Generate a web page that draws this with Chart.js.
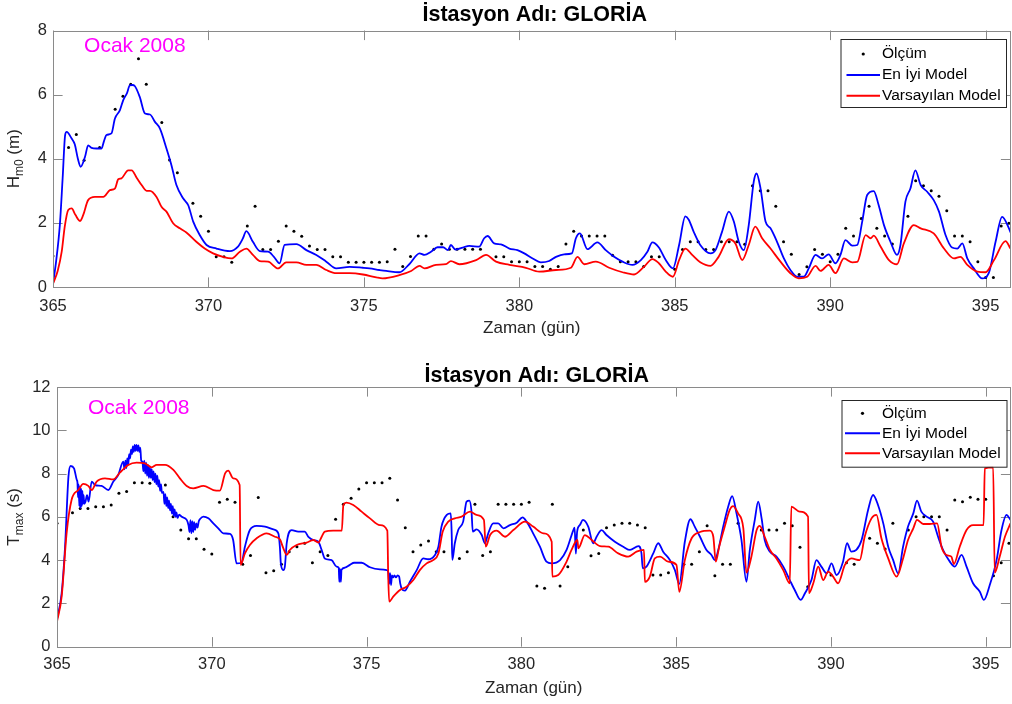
<!DOCTYPE html>
<html><head><meta charset="utf-8">
<script src="https://cdn.jsdelivr.net/npm/chart.js@4.4.1/dist/chart.umd.min.js"></script>
<style>
body{margin:0;background:#fff;width:1012px;height:704px;overflow:hidden;position:relative}
canvas{position:absolute;left:0}
</style></head>
<body>
<canvas id="c1" width="1012" height="352" style="top:0"></canvas>
<canvas id="c2" width="1012" height="352" style="top:352px"></canvas>
<script>
// ---------------- data ----------------
const chartTitle = 'İstasyon Adı: GLORİA';
const xLabel = 'Zaman (gün)';
const noteText = 'Ocak 2008';
const seriesNames = ['Ölçüm', 'En İyi Model', 'Varsayılan Model'];
const xTickValues = [365, 370, 375, 380, 385, 390, 395];
const xMin = 365, xMax = 395.8;
const hTickValues = [0, 2, 4, 6, 8];
const tTickValues = [0, 2, 4, 6, 8, 10, 12];

// Hm0 (m) : measurement [day, value]
const hObs = [[365.0,0.97],[365.5,4.35],[365.75,4.76],[366.0,3.95],[366.5,4.35],[367.0,5.54],[367.25,5.95],[367.5,6.32],[367.75,7.12],[368.0,6.32],[368.5,5.13],[368.75,3.96],[369.0,3.56],[369.5,2.61],[369.75,2.21],[370.0,1.74],[370.25,0.94],[370.5,0.94],[370.75,0.77],[371.25,1.9],[371.5,2.52],[371.75,1.17],[372.0,1.17],[372.25,1.43],[372.5,1.9],[372.75,1.74],[373.0,1.58],[373.25,1.28],[373.5,1.17],[373.75,1.17],[374.0,0.94],[374.25,0.94],[374.5,0.77],[374.75,0.77],[375.0,0.77],[375.25,0.77],[375.5,0.77],[375.75,0.79],[376.0,1.18],[376.25,0.64],[376.5,0.95],[376.75,1.59],[377.0,1.59],[377.25,1.18],[377.5,1.34],[377.75,1.18],[378.0,1.18],[378.25,1.18],[378.5,1.18],[378.75,1.18],[379.25,0.94],[379.5,0.94],[379.75,0.79],[380.0,0.79],[380.25,0.79],[380.5,0.64],[380.75,0.64],[381.0,0.55],[381.25,0.64],[381.5,1.34],[381.75,1.74],[382.0,1.59],[382.25,1.59],[382.5,1.59],[382.75,1.59],[383.0,0.99],[383.25,0.79],[383.5,0.79],[383.75,0.79],[384.0,0.64],[384.25,0.94],[384.5,0.94],[385.0,0.55],[385.25,1.17],[385.5,1.41],[385.75,1.41],[386.0,1.17],[386.25,1.17],[386.5,1.41],[386.75,1.41],[387.0,1.41],[387.25,1.33],[387.5,3.16],[387.75,3.0],[388.0,3.0],[388.25,2.52],[388.5,1.41],[388.75,1.02],[389.0,0.39],[389.25,0.63],[389.5,1.17],[389.75,1.02],[390.0,0.79],[390.25,1.02],[390.5,1.83],[390.75,1.59],[391.0,2.14],[391.25,2.52],[391.5,1.83],[391.75,1.59],[392.0,1.34],[392.5,2.21],[392.75,3.31],[393.0,3.16],[393.25,3.0],[393.5,2.83],[393.75,2.38],[394.0,1.59],[394.25,1.59],[394.5,1.41],[394.75,0.79],[395.0,0.3],[395.25,0.3],[395.5,1.9],[395.75,1.99]];

// Hm0 : best model
const hBest = [[365.0,0.1],[365.1,0.8],[365.22,1.93],[365.31,3.39],[365.39,4.74],[365.44,4.84],[365.6,4.63],[365.7,4.45],[365.8,4.0],[365.89,3.75],[366.03,4.06],[366.13,4.42],[366.24,4.34],[366.4,4.32],[366.56,4.32],[366.64,4.55],[366.72,4.74],[366.88,4.79],[366.99,5.25],[367.15,5.51],[367.26,5.83],[367.38,6.05],[367.47,6.29],[367.55,6.3],[367.63,6.27],[367.79,5.93],[367.96,5.41],[368.12,5.38],[368.28,5.15],[368.44,4.94],[368.65,4.32],[368.81,3.8],[368.97,3.18],[369.19,2.76],[369.35,2.55],[369.51,2.04],[369.72,1.62],[369.94,1.31],[370.26,1.2],[370.69,1.12],[370.95,1.26],[371.1,1.5],[371.22,1.74],[371.43,1.41],[371.65,1.12],[371.92,1.1],[372.1,0.95],[372.29,0.74],[372.45,1.31],[372.83,1.34],[373.15,1.15],[373.47,1.0],[373.79,0.79],[374.11,0.58],[374.54,0.63],[374.97,0.6],[375.18,0.58],[375.5,0.53],[375.72,0.5],[376.14,0.46],[376.46,0.71],[376.79,1.05],[376.95,1.0],[377.16,1.1],[377.37,1.24],[377.55,1.24],[377.7,1.15],[377.8,1.31],[377.94,1.17],[378.18,1.23],[378.39,1.28],[378.71,1.26],[378.87,1.52],[378.98,1.59],[379.19,1.36],[379.41,1.33],[379.68,1.2],[379.94,1.15],[380.16,1.05],[380.43,0.89],[380.69,0.77],[380.96,0.81],[381.18,0.94],[381.44,1.02],[381.69,1.05],[381.82,1.52],[381.95,1.67],[382.19,1.18],[382.51,1.39],[382.78,1.15],[383.05,0.94],[383.32,0.79],[383.64,0.69],[383.91,0.84],[384.12,1.1],[384.28,1.39],[384.49,1.23],[384.71,0.84],[384.94,0.58],[385.14,1.31],[385.34,2.2],[385.45,2.1],[385.61,1.72],[385.82,1.31],[386.15,1.05],[386.31,1.15],[386.52,1.72],[386.74,2.35],[386.9,2.04],[387.06,1.41],[387.22,1.15],[387.38,1.93],[387.54,3.28],[387.63,3.54],[387.76,3.07],[387.92,2.04],[388.08,1.83],[388.29,1.41],[388.51,0.89],[388.72,0.53],[388.94,0.32],[389.15,0.32],[389.31,0.58],[389.53,1.0],[389.74,0.89],[389.95,1.02],[390.17,0.74],[390.33,1.0],[390.49,1.46],[390.71,1.29],[390.87,1.31],[391.03,2.04],[391.19,2.87],[391.4,2.99],[391.56,2.55],[391.73,1.93],[391.94,1.41],[392.15,1.0],[392.26,1.31],[392.42,2.66],[392.58,3.07],[392.74,3.64],[392.91,3.18],[393.12,2.97],[393.33,2.71],[393.5,2.35],[393.71,1.62],[393.92,1.23],[394.09,1.2],[394.25,1.36],[394.41,0.89],[394.62,0.58],[394.89,0.27],[395.1,0.43],[395.32,1.41],[395.53,2.19],[395.75,1.83],[395.8,1.7]];

// Hm0 : default model
const hDefault = [[365.0,0.1],[365.15,0.5],[365.28,1.1],[365.38,1.9],[365.49,2.4],[365.6,2.45],[365.72,2.25],[365.87,2.06],[365.97,2.24],[366.13,2.71],[366.35,2.81],[366.62,2.81],[366.83,3.02],[366.99,3.07],[367.1,3.36],[367.2,3.39],[367.42,3.64],[367.53,3.64],[367.69,3.41],[367.85,3.18],[368.01,3.0],[368.12,3.0],[368.33,2.81],[368.49,2.5],[368.65,2.35],[368.87,1.98],[369.08,1.83],[369.29,1.7],[369.61,1.41],[369.88,1.2],[370.15,1.05],[370.47,0.94],[370.74,0.89],[371.01,1.1],[371.22,1.2],[371.43,1.0],[371.65,0.81],[371.92,0.79],[372.24,0.58],[372.5,0.77],[372.83,0.77],[373.15,0.69],[373.47,0.69],[373.79,0.53],[374.11,0.43],[374.54,0.43],[374.97,0.39],[375.4,0.3],[375.6,0.27],[376.14,0.37],[376.52,0.5],[376.79,0.66],[376.95,0.58],[377.32,0.69],[377.64,0.71],[377.8,0.81],[378.07,0.71],[378.61,0.84],[378.93,1.0],[379.25,0.79],[379.68,0.69],[380.21,0.6],[380.64,0.48],[381.18,0.53],[381.66,0.6],[381.87,0.94],[382.09,0.71],[382.46,0.79],[382.89,0.6],[383.32,0.46],[383.69,0.39],[384.01,0.63],[384.28,0.87],[384.49,0.74],[384.71,0.48],[384.94,0.32],[385.14,0.84],[385.34,1.2],[385.56,1.0],[385.82,0.77],[386.15,0.66],[386.41,0.94],[386.74,1.49],[386.95,1.36],[387.17,0.84],[387.38,1.31],[387.59,1.88],[387.81,1.52],[388.08,1.2],[388.4,0.79],[388.72,0.43],[388.99,0.27],[389.26,0.32],[389.53,0.66],[389.69,0.5],[389.95,0.69],[390.17,0.43],[390.44,0.89],[390.71,0.77],[390.87,0.78],[391.14,1.62],[391.3,1.52],[391.4,1.6],[391.62,1.26],[391.89,0.84],[392.15,0.71],[392.37,1.36],[392.69,1.93],[392.91,1.83],[393.33,1.67],[393.66,1.2],[393.98,0.89],[394.19,0.94],[394.41,0.69],[394.73,0.48],[395.0,0.46],[395.27,0.84],[395.64,1.43],[395.8,1.2]];

// Tmax (s) : measurement
const tObs = [[365.0,5.7],[365.5,6.19],[365.75,6.39],[366.0,6.39],[366.25,6.47],[366.5,6.47],[366.75,6.55],[367.0,7.09],[367.25,7.17],[367.5,7.58],[367.75,7.58],[368.0,7.55],[368.5,7.47],[368.75,6.01],[369.0,5.39],[369.25,4.99],[369.5,4.99],[369.75,4.5],[370.0,4.28],[370.25,6.67],[370.5,6.81],[370.75,6.67],[371.0,3.81],[371.25,4.21],[371.5,6.89],[371.75,3.42],[372.0,3.51],[372.25,3.81],[372.5,4.39],[372.75,4.62],[373.0,4.78],[373.25,3.88],[373.5,4.39],[373.75,4.21],[374.0,5.89],[374.25,6.58],[374.5,6.86],[374.75,7.29],[375.0,7.58],[375.25,7.58],[375.5,7.58],[375.75,7.78],[376.0,6.78],[376.25,5.5],[376.5,4.39],[376.75,4.7],[377.0,4.88],[377.25,4.39],[377.5,4.39],[378.0,4.08],[378.25,4.39],[378.5,6.58],[378.75,4.21],[379.0,4.39],[379.25,6.58],[379.5,6.58],[379.75,6.58],[380.0,6.58],[380.25,6.67],[380.5,2.8],[380.75,2.7],[381.0,6.58],[381.25,2.8],[381.5,3.7],[382.0,5.39],[382.25,4.2],[382.5,4.31],[382.75,5.5],[383.0,5.62],[383.25,5.7],[383.5,5.7],[383.75,5.62],[384.0,5.5],[384.25,3.31],[384.5,3.31],[384.75,3.42],[385.25,3.81],[385.5,3.81],[385.75,4.39],[386.0,5.59],[386.25,3.28],[386.5,3.81],[386.75,3.81],[387.0,5.7],[387.75,5.39],[388.0,5.39],[388.25,5.39],[388.5,5.7],[388.75,5.59],[389.0,4.59],[389.25,2.77],[390.0,3.31],[390.5,3.88],[390.75,3.81],[391.25,5.01],[391.5,4.78],[391.75,4.51],[392.0,5.7],[392.5,5.39],[392.75,6.01],[393.0,6.01],[393.25,6.01],[393.5,6.01],[393.75,5.39],[394.0,6.78],[394.25,6.7],[394.5,6.9],[394.75,6.81],[395.0,6.81],[395.25,3.28],[395.5,3.88],[395.75,4.78]];

// Tmax : best model
const tBest = [[365.0,1.26],[365.15,2.47],[365.26,4.62],[365.37,7.86],[365.44,8.35],[365.55,8.24],[365.64,7.7],[365.66,7.6],[365.68,6.9],[365.7,7.5],[365.72,6.5],[365.74,7.4],[365.76,6.4],[365.78,7.3],[365.8,6.5],[365.82,7.2],[365.84,6.6],[365.86,7.0],[365.88,6.6],[365.92,6.7],[365.97,7.0],[366.02,6.7],[366.12,7.63],[366.23,7.47],[366.44,7.43],[366.66,7.24],[366.82,7.63],[366.98,7.94],[367.14,8.55],[367.18,8.2],[367.21,8.6],[367.24,8.25],[367.27,8.7],[367.3,8.4],[367.33,8.9],[367.36,8.7],[367.39,9.1],[367.42,8.9],[367.45,9.25],[367.48,9.0],[367.51,9.32],[367.54,9.05],[367.57,9.32],[367.6,9.05],[367.63,9.3],[367.66,9.0],[367.69,9.2],[367.72,8.6],[367.76,8.55],[367.79,8.1],[367.82,8.6],[367.85,8.0],[367.88,8.5],[367.91,7.9],[367.94,8.4],[367.97,7.8],[368.0,8.3],[368.03,7.8],[368.06,8.2],[368.09,7.7],[368.12,8.1],[368.15,7.6],[368.18,8.0],[368.21,7.5],[368.24,7.9],[368.27,7.4],[368.3,7.7],[368.33,7.2],[368.36,7.5],[368.39,7.1],[368.44,7.15],[368.47,6.6],[368.5,7.05],[368.53,6.5],[368.56,6.9],[368.59,6.4],[368.62,6.75],[368.65,6.3],[368.68,6.6],[368.71,6.15],[368.74,6.5],[368.77,6.05],[368.8,6.35],[368.83,6.0],[368.86,6.2],[368.89,5.95],[368.95,6.1],[369.03,6.0],[369.19,5.86],[369.25,5.6],[369.28,5.3],[369.31,5.85],[369.34,5.25],[369.37,5.8],[369.4,5.3],[369.43,5.75],[369.46,5.4],[369.5,5.7],[369.54,5.5],[369.58,5.8],[369.62,5.9],[369.73,6.01],[369.89,5.93],[370.05,5.7],[370.21,5.47],[370.37,5.24],[370.59,5.21],[370.69,4.93],[370.8,3.85],[370.96,3.88],[371.07,4.62],[371.23,5.39],[371.45,5.58],[371.72,5.55],[371.99,5.42],[372.15,5.24],[372.2,4.6],[372.23,3.85],[372.31,3.54],[372.36,3.7],[372.42,4.78],[372.58,5.39],[372.79,5.32],[373.0,5.32],[373.12,5.08],[373.28,4.93],[373.44,4.85],[373.55,4.47],[373.65,4.08],[373.87,4.0],[374.03,3.7],[374.1,3.65],[374.12,3.0],[374.14,3.6],[374.17,3.0],[374.19,3.55],[374.3,3.65],[374.46,3.78],[374.6,3.88],[374.84,3.88],[375.11,3.67],[375.43,3.57],[375.65,3.54],[375.7,3.45],[375.73,2.9],[375.76,3.4],[375.79,2.85],[375.82,3.3],[375.86,3.2],[375.9,3.3],[375.95,3.2],[376.0,3.3],[376.05,3.25],[376.09,2.9],[376.13,2.7],[376.24,2.59],[376.4,3.0],[376.62,3.54],[376.83,4.08],[376.99,4.04],[377.21,4.24],[377.32,4.62],[377.42,5.55],[377.59,6.09],[377.72,6.16],[377.75,5.2],[377.77,4.01],[377.85,4.78],[377.96,5.39],[378.12,5.78],[378.23,6.7],[378.32,6.75],[378.39,6.24],[378.43,5.32],[378.55,5.42],[378.72,5.16],[378.82,4.78],[378.93,5.24],[379.09,5.7],[379.25,5.7],[379.42,5.47],[379.63,5.62],[379.85,5.73],[380.04,5.98],[380.17,5.78],[380.38,5.24],[380.6,4.62],[380.81,3.93],[380.98,3.85],[381.25,4.0],[381.46,4.47],[381.68,5.39],[381.72,5.5],[381.76,4.3],[381.8,5.3],[381.89,5.62],[381.99,5.86],[382.16,5.55],[382.32,4.78],[382.43,5.08],[382.59,5.39],[382.75,5.16],[383.02,4.85],[383.29,4.62],[383.51,4.47],[383.78,4.65],[383.88,4.31],[383.92,3.62],[384.04,3.7],[384.26,4.31],[384.42,4.78],[384.58,4.39],[384.8,4.0],[384.96,3.54],[385.1,2.9],[385.28,4.85],[385.46,5.89],[385.6,5.55],[385.77,5.08],[385.98,4.47],[386.14,4.24],[386.25,4.0],[386.36,4.47],[386.52,5.55],[386.68,6.47],[386.81,6.96],[386.95,6.16],[387.11,4.93],[387.27,3.0],[387.38,4.47],[387.54,5.86],[387.65,6.7],[387.76,5.93],[387.86,4.93],[388.03,4.39],[388.24,4.16],[388.46,3.7],[388.67,3.08],[388.83,2.62],[389.02,2.16],[389.16,2.47],[389.37,3.08],[389.53,4.0],[389.69,3.7],[389.86,3.39],[390.02,3.85],[390.18,3.31],[390.39,3.93],[390.52,4.78],[390.66,4.39],[390.82,4.47],[390.99,4.93],[391.2,6.32],[391.36,7.01],[391.52,6.55],[391.69,5.7],[391.85,4.62],[392.01,4.0],[392.17,3.39],[392.33,4.62],[392.49,5.55],[392.66,6.16],[392.78,6.75],[392.92,6.24],[393.09,6.01],[393.3,5.78],[393.46,5.08],[393.62,4.47],[393.84,3.93],[394.0,3.7],[394.22,4.24],[394.38,3.7],[394.59,2.93],[394.81,2.54],[394.94,2.16],[395.13,2.85],[395.35,4.0],[395.51,5.39],[395.67,6.09],[395.8,5.86]];

// Tmax : default model
const tDefault = [[365.0,1.16],[365.15,2.31],[365.31,5.24],[365.47,6.78],[365.69,7.24],[365.85,7.52],[366.01,7.43],[366.12,7.24],[366.28,7.63],[366.55,7.78],[366.82,7.73],[367.03,8.04],[367.3,8.4],[367.57,8.51],[367.84,8.47],[368.06,8.29],[368.22,8.4],[368.49,8.4],[368.76,8.17],[368.97,7.78],[369.19,7.43],[369.4,7.32],[369.73,7.43],[370.05,7.24],[370.26,7.21],[370.43,8.01],[370.53,8.14],[370.69,7.78],[370.9,7.47],[370.93,3.78],[371.07,4.31],[371.23,4.7],[371.45,5.01],[371.77,5.24],[372.04,5.08],[372.2,4.96],[372.31,4.55],[372.42,4.24],[372.52,4.47],[372.74,4.7],[373.06,4.81],[373.28,4.93],[373.44,4.81],[373.55,5.08],[373.65,5.32],[373.92,5.36],[374.2,5.36],[374.25,6.55],[374.35,6.66],[374.57,6.55],[374.84,6.24],[375.11,5.93],[375.43,5.62],[375.67,5.36],[375.7,3.24],[375.73,2.08],[375.86,2.31],[376.08,2.62],[376.29,2.77],[376.51,3.08],[376.72,3.54],[376.94,3.85],[377.15,4.0],[377.32,4.31],[377.46,5.32],[377.64,5.78],[377.85,5.93],[378.07,6.01],[378.34,6.24],[378.55,6.09],[378.79,5.86],[378.85,4.62],[378.99,5.16],[379.2,5.36],[379.47,5.08],[379.74,5.39],[380.12,5.78],[380.38,5.55],[380.71,5.24],[380.98,4.85],[381.0,3.24],[381.19,3.31],[381.46,3.93],[381.62,4.47],[381.81,4.93],[381.84,4.55],[382.05,5.16],[382.27,4.93],[382.54,4.65],[382.81,4.62],[383.13,4.31],[383.45,4.16],[383.72,4.39],[383.96,4.47],[383.99,3.0],[384.15,3.24],[384.31,4.08],[384.48,4.16],[384.74,3.93],[385.01,3.78],[385.1,2.54],[385.28,4.0],[385.5,5.01],[385.77,5.3],[386.09,5.36],[386.2,5.08],[386.28,3.93],[386.39,4.62],[386.57,5.55],[386.73,6.32],[386.84,6.5],[387.0,6.16],[387.17,5.47],[387.27,3.42],[387.43,4.16],[387.6,5.39],[387.7,5.58],[387.86,5.08],[388.03,4.47],[388.24,4.08],[388.46,3.54],[388.67,2.93],[388.72,6.47],[388.99,6.24],[389.26,6.01],[389.29,2.47],[389.43,2.93],[389.59,3.7],[389.75,3.08],[389.91,3.47],[390.07,3.24],[390.23,2.93],[390.45,3.78],[390.66,4.08],[390.93,4.0],[391.09,5.08],[391.31,5.93],[391.47,6.09],[391.63,5.01],[391.85,4.08],[392.12,3.24],[392.33,4.08],[392.49,4.93],[392.66,5.47],[392.78,5.86],[392.98,5.67],[393.19,5.67],[393.43,5.7],[393.57,4.62],[393.73,4.24],[393.89,4.16],[393.97,3.82],[394.16,4.62],[394.38,5.39],[394.59,5.62],[394.93,5.62],[394.97,8.24],[395.24,8.29],[395.29,3.42],[395.45,4.16],[395.62,5.08],[395.8,5.7]];

// ---------------- rendering ----------------
const FONT = '"Liberation Sans", Arial, Helvetica, sans-serif';
const TXT = '#262626';
const AXC = '#8a8a8a';
const toPts = a => a.map(p => ({x: p[0], y: p[1]}));

function decor(o) {
  return {
    id: 'decor',
    beforeDatasetsDraw(chart) {
      const {ctx, chartArea: a, scales: {x, y}} = chart;
      const tl = 9.6;
      ctx.save();
      ctx.strokeStyle = AXC; ctx.lineWidth = 1;
      ctx.beginPath();
      x.ticks.forEach(t => {
        const px = Math.round(x.getPixelForValue(t.value)) + 0.5;
        ctx.moveTo(px, a.bottom); ctx.lineTo(px, a.bottom - tl);
        ctx.moveTo(px, a.top); ctx.lineTo(px, a.top + tl);
      });
      y.ticks.forEach(t => {
        const py = Math.round(y.getPixelForValue(t.value)) + 0.5;
        ctx.moveTo(a.left, py); ctx.lineTo(a.left + tl, py);
        ctx.moveTo(a.right, py); ctx.lineTo(a.right - tl, py);
      });
      ctx.stroke();
      ctx.restore();
    },
    afterDatasetsDraw(chart) {
      const {ctx, chartArea: a, scales: {x, y}} = chart;
      ctx.save();
      // box
      ctx.strokeStyle = AXC; ctx.lineWidth = 1;
      ctx.strokeRect(Math.round(a.left) + 0.5, Math.round(a.top) + 0.5,
        Math.round(a.right) - Math.round(a.left) - 1, Math.round(a.bottom) - Math.round(a.top));
      // title
      const cx = (a.left + a.right) / 2;
      ctx.fillStyle = '#000';
      ctx.font = 'bold 21.5px ' + FONT;
      ctx.textAlign = 'center'; ctx.textBaseline = 'alphabetic';
      ctx.fillText(chartTitle, cx + 3, o.titleBase);
      // x label
      ctx.fillStyle = TXT;
      ctx.font = '17px ' + FONT;
      ctx.fillText(xLabel, cx, o.xLabelBase);
      // y label with subscript
      ctx.save();
      ctx.translate(o.yLabelX, (a.top + a.bottom) / 2);
      ctx.rotate(-Math.PI / 2);
      ctx.textAlign = 'left';
      ctx.font = '17px ' + FONT; const w1 = ctx.measureText(o.yMain).width;
      const w3 = ctx.measureText(o.yRest).width;
      ctx.font = '12px ' + FONT; const w2 = ctx.measureText(o.ySub).width;
      let sx = -(w1 + w2 + w3) / 2;
      ctx.font = '17px ' + FONT; ctx.fillText(o.yMain, sx, 0); sx += w1;
      ctx.font = '12px ' + FONT; ctx.fillText(o.ySub, sx, 4); sx += w2;
      ctx.font = '17px ' + FONT; ctx.fillText(o.yRest, sx, 0);
      ctx.restore();
      // note
      ctx.fillStyle = '#FF00FF';
      ctx.font = '21px ' + FONT;
      ctx.textAlign = 'left'; ctx.textBaseline = 'middle';
      ctx.fillText(noteText, x.getPixelForValue(366), y.getPixelForValue(o.noteY));
      // legend
      const L = o.legend;
      ctx.fillStyle = '#fff';
      ctx.fillRect(L.x0, L.y0, L.x1 - L.x0, L.y1 - L.y0);
      ctx.strokeStyle = '#262626'; ctx.lineWidth = 1;
      ctx.strokeRect(L.x0 + 0.5, L.y0 + 0.5, L.x1 - L.x0, L.y1 - L.y0);
      ctx.font = '15.5px ' + FONT; ctx.fillStyle = '#000';
      ctx.textBaseline = 'middle'; ctx.textAlign = 'left';
      L.rows.forEach((ry, i) => {
        if (i === 0) {
          ctx.beginPath(); ctx.fillStyle = '#000';
          ctx.arc((L.lx0 + L.lx1) / 2, ry, 1.6, 0, Math.PI * 2); ctx.fill();
        } else {
          ctx.strokeStyle = i === 1 ? '#0000FF' : '#FF0000'; ctx.lineWidth = 2;
          ctx.beginPath(); ctx.moveTo(L.lx0, ry); ctx.lineTo(L.lx1, ry); ctx.stroke();
        }
        ctx.fillStyle = '#000';
        ctx.fillText(seriesNames[i], L.tx, ry);
      });
      ctx.restore();
    }
  };
}

function makeChart(id, obs, best, def, yTicks, yMax, o) {
  const tickFont = {family: FONT, size: 16.5};
  const chart = new Chart(document.getElementById(id), {
    type: 'line',
    data: {
      datasets: [
        {label: seriesNames[2], data: toPts(def), borderColor: '#FF0000', borderWidth: 1.8, pointRadius: 0, fill: false, order: 1, cubicInterpolationMode: 'monotone'},
        {label: seriesNames[1], data: toPts(best), borderColor: '#0000FF', borderWidth: 1.8, pointRadius: 0, fill: false, order: 2, cubicInterpolationMode: 'monotone'},
        {label: seriesNames[0], data: toPts(obs), showLine: false, borderWidth: 0, pointRadius: 1.5, pointBorderWidth: 0, pointBackgroundColor: '#000', borderColor: '#000', order: 3}
      ]
    },
    options: {
      responsive: false, animation: false, devicePixelRatio: 1,
      layout: {autoPadding: false, padding: {left: 0, right: 2, top: o.padTop, bottom: 0}},
      plugins: {legend: {display: false}, tooltip: {enabled: false}, title: {display: false}},
      scales: {
        x: {
          type: 'linear', min: xMin, max: xMax,
          grid: {display: false, drawTicks: false}, border: {display: false},
          ticks: {font: tickFont, color: TXT, padding: o.xPad, includeBounds: false, autoSkip: false, maxRotation: 0},
          afterBuildTicks: s => { s.ticks = xTickValues.map(v => ({value: v})); },
          afterFit: s => { s.height = o.xHeight; s.paddingLeft = 0; s.paddingRight = 0; }
        },
        y: {
          type: 'linear', min: 0, max: yMax,
          grid: {display: false, drawTicks: false}, border: {display: false},
          ticks: {font: tickFont, color: TXT, padding: o.yPad, autoSkip: false},
          afterBuildTicks: s => { s.ticks = yTicks.map(v => ({value: v})); },
          afterFit: s => { s.width = o.yWidth; s.paddingTop = 0; s.paddingBottom = 0; }
        }
      }
    },
    plugins: [decor(o)]
  });
  // make the plot area end at the wanted right edge
  const diff = o.right - chart.chartArea.right;
  if (Math.abs(diff) > 0.2) {
    chart.options.layout.padding.right -= diff;
    chart.update();
  }
  return chart;
}

makeChart('c1', hObs, hBest, hDefault, hTickValues, 8, {
  padTop: 30.5, xHeight: 65, yWidth: 53, xPad: 9.5, yPad: 6, right: 1010.5,
  titleBase: 20.5, xLabelBase: 333, yLabelX: 19, yMain: 'H', ySub: 'm0', yRest: ' (m)', noteY: 7.5,
  legend: {x0: 840.5, y0: 39, x1: 1006, y1: 107, lx0: 846.5, lx1: 880, tx: 882, rows: [54, 75, 95.7]}
});
makeChart('c2', tObs, tBest, tDefault, tTickValues, 12, {
  padTop: 35, xHeight: 57.3, yWidth: 57, xPad: 8, yPad: 6.5, right: 1010.5,
  titleBase: 29.7, xLabelBase: 340.7, yLabelX: 19, yMain: 'T', ySub: 'max', yRest: ' (s)', noteY: 11,
  legend: {x0: 841.5, y0: 48, x1: 1006.5, y1: 114.7, lx0: 845, lx1: 880, tx: 882, rows: [61.3, 81.3, 101.3]}
});
</script>
</body></html>
